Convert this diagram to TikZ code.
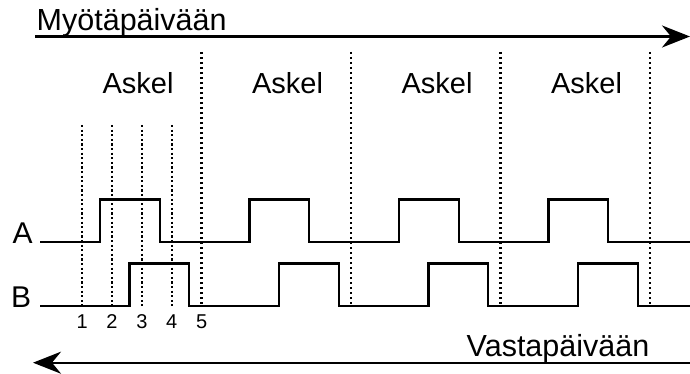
\documentclass[tikz,border=0pt]{standalone}
\usepackage{fontspec}
\setmainfont{Liberation Sans}
\usetikzlibrary{arrows.meta}
\begin{document}
\begin{tikzpicture}[x=1pt,y=-1pt,
  sig/.style={line width=2.3pt, line join=miter},
  dirarrow/.style={line width=2.3pt, -{Stealth[length=28pt,width=22pt,inset=9pt]}},
  sepline/.style={line width=2.5pt, dash pattern=on 2.4pt off 2.6pt},
  subline/.style={line width=2.1pt, dash pattern=on 2.2pt off 2.4pt},
  bigtxt/.style={font=\fontsize{30.5}{32}\selectfont, inner sep=0pt},
  steptxt/.style={font=\fontsize{29}{30}\selectfont, inner sep=0pt, anchor=base},
  chtxt/.style={font=\fontsize{30}{32}\selectfont, inner sep=0pt, anchor=base west},
  numtxt/.style={font=\fontsize{20}{21}\selectfont, inner sep=0pt, anchor=base}
]
\useasboundingbox (0,0) rectangle (690,374);

% direction arrows
\coordinate (cwS) at (35,36.5);
\coordinate (cwE) at (690,36.5);
\draw[dirarrow] (cwS) -- (cwE);
\node[bigtxt, anchor=base west] (cw) at (36.5,30.5) {Myötäpäivään};

\coordinate (ccwS) at (690,362.7);
\coordinate (ccwE) at (33,362.7);
\draw[dirarrow] (ccwS) -- (ccwE);
\node[bigtxt, anchor=base west] (ccw) at (466.5,356.5) {Vastapäivään};

% step labels
\node[steptxt] (s1) at (138,94) {Askel};
\node[steptxt] (s2) at (287.5,94) {Askel};
\node[steptxt] (s3) at (437,94) {Askel};
\node[steptxt] (s4) at (586.5,94) {Askel};

% step separators
\foreach \x in {201.7,351.2,500.7,650.2}
  \draw[sepline] (\x,52) -- (\x,306);

% sub-step lines
\foreach \x in {82.1,112,141.9,171.8}
  \draw[subline] (\x,125) -- (\x,306);

% numbers
\node[numtxt] (n1) at (82.1,328.5) {1};
\node[numtxt] (n2) at (112,328.5) {2};
\node[numtxt] (n3) at (141.9,328.5) {3};
\node[numtxt] (n4) at (171.8,328.5) {4};
\node[numtxt] (n5) at (201.7,328.5) {5};

% channel labels
\node[chtxt] (la) at (12.5,243) {A};
\node[chtxt] (lb) at (11,307) {B};

% signal A
\draw[sig] (40,242) -- (100,242) -- (100,199.5) -- (159.8,199.5) -- (159.8,242)
  -- (249.5,242) -- (249.5,199.5) -- (309.3,199.5) -- (309.3,242)
  -- (399,242) -- (399,199.5) -- (458.8,199.5) -- (458.8,242)
  -- (548.5,242) -- (548.5,199.5) -- (608.3,199.5) -- (608.3,242) -- (690,242);

% signal B
\draw[sig] (40,306) -- (129.5,306) -- (129.5,263.5) -- (189.3,263.5) -- (189.3,306)
  -- (279,306) -- (279,263.5) -- (338.8,263.5) -- (338.8,306)
  -- (428.5,306) -- (428.5,263.5) -- (488.3,263.5) -- (488.3,306)
  -- (578,306) -- (578,263.5) -- (637.8,263.5) -- (637.8,306) -- (690,306);
\end{tikzpicture}
\end{document}
